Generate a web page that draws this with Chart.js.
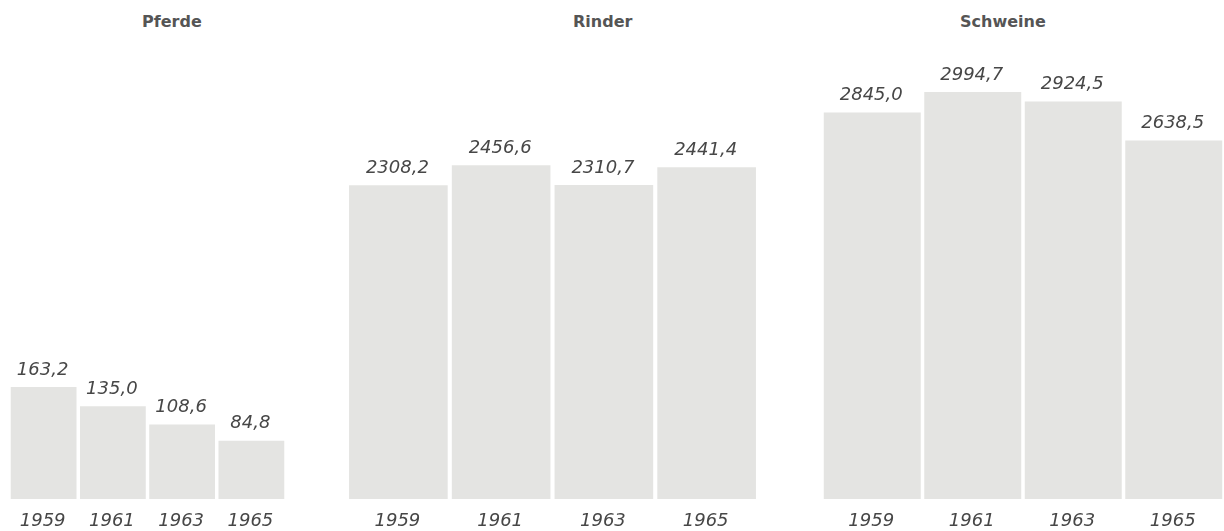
<!DOCTYPE html>
<html>
<head>
<meta charset="utf-8">
<script src="https://cdn.jsdelivr.net/npm/chart.js@4"></script>
<style>
  body { margin: 0; background: #fff; width: 1224px; height: 531px; position: relative; overflow: hidden; }
  .panel { position: absolute; top: 0; height: 531px; }
  .titel { position: absolute; top: 12px; font: bold 16px "DejaVu Sans", sans-serif; color: #555; white-space: nowrap; }
</style>
</head>
<body>
<div class="titel" style="left:142px">Pferde</div>
<div class="titel" style="left:573px">Rinder</div>
<div class="titel" style="left:960px">Schweine</div>

<div class="panel" style="left:9px;width:277px"><canvas id="pferdeChart"></canvas></div>
<div class="panel" style="left:347px;width:411px"><canvas id="rinderChart"></canvas></div>
<div class="panel" style="left:822px;width:402px"><canvas id="schweineChart"></canvas></div>

<script>
// Bestand in 1000 Stück
const jahre = ['1959', '1961', '1963', '1965'];
const pferde = [163.2, 135.0, 108.6, 84.8];
const rinder = [2308.2, 2456.6, 2310.7, 2441.4];
const schweine = [2845.0, 2994.7, 2924.5, 2638.5];

// Zahlen mit Komma wie im Original
function fmt(v) {
    return v.toFixed(1).replace('.', ',');
}

// Werte über den Balken, Jahre darunter
const beschriftung = {
    id: 'beschriftung',
    afterDatasetsDraw(chart) {
        const ctx = chart.ctx;
        const meta = chart.getDatasetMeta(0);
        const werte = chart.data.datasets[0].data;
        ctx.save();
        ctx.fillStyle = '#474747';
        ctx.font = 'italic 18px "DejaVu Sans", sans-serif';
        ctx.textAlign = 'center';
        meta.data.forEach((bar, i) => {
            ctx.textBaseline = 'bottom';
            ctx.fillText(fmt(werte[i]), bar.x - 1, bar.y - 8);
            ctx.textBaseline = 'middle';
            ctx.fillText(chart.data.labels[i], bar.x - 1, chart.chartArea.bottom + 22);
        });
        ctx.restore();
    }
};

function makeChart(id, werte, yMax, barPct) {
    const ctx = document.getElementById(id).getContext('2d');
    return new Chart(ctx, {
        type: 'bar',
        data: {
            labels: jahre,
            datasets: [{
                data: werte,
                backgroundColor: '#e4e4e2',
                barPercentage: barPct,
                categoryPercentage: 1
            }]
        },
        options: {
            responsive: true,
            maintainAspectRatio: false,
            animation: false,
            layout: { padding: { top: 50, bottom: 32, left: 0, right: 0 } },
            scales: {
                x: { display: false },
                y: { display: false, min: 0, max: yMax }
            },
            plugins: {
                legend: { display: false },
                tooltip: { enabled: false }
            }
        },
        plugins: [beschriftung]
    });
}

document.addEventListener('DOMContentLoaded', () => {
    makeChart('pferdeChart', pferde, 654, 0.95);
    makeChart('rinderChart', rinder, 3304, 0.96);
    makeChart('schweineChart', schweine, 3304, 0.965);
});
</script>
</body>
</html>
